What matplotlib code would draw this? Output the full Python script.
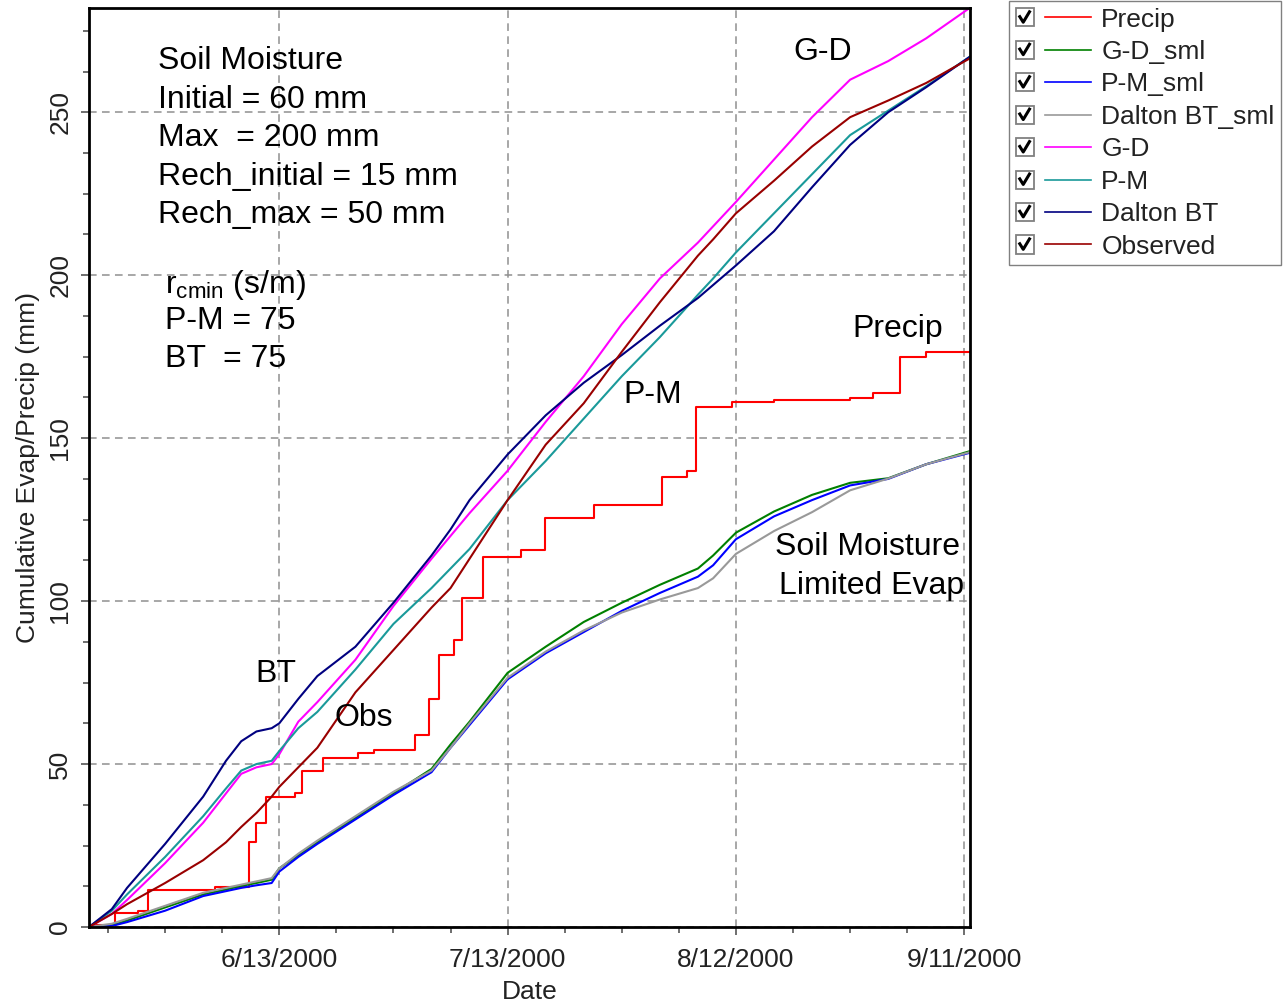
import matplotlib
matplotlib.use('Agg')
import matplotlib.pyplot as plt
import matplotlib.dates as mdates
import numpy as np
import pandas as pd
from matplotlib.lines import Line2D
from matplotlib.patches import Rectangle
from matplotlib.legend_handler import HandlerBase
from matplotlib.ticker import FixedLocator, FuncFormatter, MultipleLocator

plt.rcParams['font.family'] = ['Liberation Sans', 'DejaVu Sans']
plt.rcParams['mathtext.fontset'] = 'custom'
plt.rcParams['mathtext.rm'] = 'Liberation Sans'
plt.rcParams['mathtext.it'] = 'Liberation Sans:italic'

start = pd.Timestamp('2000-05-19')

# days since 5/19/2000
day = [0, 3, 5, 10, 15, 18, 20, 22, 24, 25, 27.5, 30, 35, 40, 45, 47.5, 50, 55,
       60, 65, 70, 75, 80, 82, 85, 90, 95, 100, 105, 110, 115.7]

gd = [0, 4, 8.3, 19.6, 32, 41, 47, 49, 50, 53, 63, 69, 82, 98.5, 113, 120, 127, 140,
      155, 169, 185, 199, 210, 215, 222.5, 235.5, 248.5, 260, 265.7, 272.7, 282]
pm = [0, 5, 10, 21.5, 34, 42.5, 48, 50, 51, 54, 61, 66, 79, 93, 104, 110, 116, 131,
      143, 156, 169, 181, 194, 199, 207, 219, 231, 243, 250.5, 258, 267]
bt = [0, 5.5, 12, 25.5, 40, 51, 57, 60, 61, 62.5, 70, 77, 86, 99.5, 114, 122, 131, 145,
      157, 167, 175.5, 184.5, 193, 197, 203, 213.5, 227, 240, 250, 257.7, 267]
obs = [0, 4, 7, 13.5, 20.5, 26, 30.7, 35, 40, 43, 49, 55, 72, 85, 98, 104, 113, 131,
       148, 160.7, 176.5, 191.7, 206, 211, 219, 229, 239.5, 248.5, 253.6, 259, 266.5]

gd_sml = [0, 0.5, 2, 6, 10, 11.5, 12.6, 13.5, 14.5, 18, 22, 26, 33.5, 41, 48.5, 56, 63, 78,
          86, 93.6, 99.5, 105, 110, 114, 121, 127.5, 132.6, 136.3, 137.7, 142, 146]
pm_sml = [0, 0.3, 1.5, 5, 9.5, 11, 12, 12.8, 13.5, 17, 21.5, 25.5, 33, 40.5, 47.5, 55, 62, 76,
          84, 90.5, 97, 102.5, 107.5, 111, 119, 126, 131, 135.5, 137.5, 142, 145.5]
bt_sml = [0, 1, 2.5, 6.5, 10.5, 12, 13, 14, 15, 18, 22.5, 26.5, 34, 41.5, 48, 55, 62.5, 76.5,
          84.5, 91, 96.5, 100.5, 104, 107, 114.5, 121.5, 127.3, 134, 137.6, 142, 145.7]

precip_day = [0, 0.5, 3.4, 6.5, 7.8, 16.5, 21, 22, 23.3, 27, 28, 30.7, 35.3, 37.5, 42.8,
              44.7, 46, 48, 49, 51.7, 56.8, 59.9, 66.4, 75.3, 78.6, 79.8, 84.5, 90, 100,
              103, 106.5, 110, 115.7]
precip = [0, 0.6, 4.3, 5, 11.5, 12.3, 26, 32, 40, 41, 48, 52, 53.4, 54.3, 59,
          70, 83.4, 88, 101, 113.5, 115.6, 125.5, 129.4, 138, 140, 159.5, 161, 161.6, 162.3,
          164, 175, 176.5, 176.5]

major_dates = ['2000-06-13', '2000-07-13', '2000-08-12', '2000-09-11']


def to_dates(days):
    return start + pd.to_timedelta(np.asarray(days, dtype=float), unit='D')


class CheckedLine(HandlerBase):
    def create_artists(self, legend, orig_handle, xdescent, ydescent, width, height, fontsize, trans):
        x0 = -xdescent
        yc = -ydescent + height / 2
        s = 13
        box = Rectangle((x0, yc - s / 2), s, s, facecolor='white', edgecolor='#808080',
                        lw=1.3, transform=trans)
        check = Line2D([x0 + 3, x0 + 5.5, x0 + 10], [yc + 0.5, yc - 3.5, yc + 4],
                       color='black', lw=2.2, transform=trans)
        line = Line2D([x0 + 21, x0 + width], [yc, yc], color=orig_handle.get_color(),
                      lw=1.2, transform=trans)
        return [box, check, line]


fig = plt.figure(figsize=(12.83, 10.02), dpi=100)
ax = fig.add_axes([89 / 1283, 75 / 1002, 881 / 1283, 919 / 1002])

series = [
    ('Precip', precip_day, precip, '#ff0000'),
    ('G-D_sml', day, gd_sml, '#008000'),
    ('P-M_sml', day, pm_sml, '#0000ff'),
    ('Dalton BT_sml', day, bt_sml, '#999999'),
    ('G-D', day, gd, '#ff00ff'),
    ('P-M', day, pm, '#1a9a9a'),
    ('Dalton BT', day, bt, '#000080'),
    ('Observed', day, obs, '#990000'),
]

handles = []
for name, d, v, c in series:
    ds = 'steps-post' if name == 'Precip' else 'default'
    h, = ax.plot(to_dates(d), v, color=c, lw=1.5, drawstyle=ds, label=name)
    handles.append(h)

ax.set_xlim(start, start + pd.Timedelta(days=115.75))
ax.set_ylim(0, 282)

major = mdates.date2num(pd.to_datetime(major_dates))
minor = mdates.date2num(start) + 2.5 + 7.5 * np.arange(16)
ax.xaxis.set_major_locator(FixedLocator(major))
ax.xaxis.set_minor_locator(FixedLocator(minor))
ax.xaxis.set_major_formatter(FuncFormatter(
    lambda x, p: '{d.month}/{d.day}/{d.year}'.format(d=mdates.num2date(x))))
ax.yaxis.set_major_locator(MultipleLocator(50))
ax.yaxis.set_minor_locator(MultipleLocator(12.5))

ax.grid(True, which='major', color='#909090', lw=1.1, linestyle=(0, (5, 3.5)))
ax.set_axisbelow(True)
for sp in ax.spines.values():
    sp.set_linewidth(2.0)
ax.tick_params(which='major', length=6, width=1.2, color='#555555', labelsize=19,
               labelcolor='#222222', pad=6)
ax.tick_params(axis='x', which='major', pad=9)
ax.tick_params(which='minor', length=4, width=1.2, color='#555555')
plt.setp(ax.get_yticklabels(), rotation=90, va='center')

ax.set_xlabel('Date', fontsize=19, color='#222222', labelpad=6)
ax.set_ylabel('Cumulative Evap/Precip (mm)', fontsize=19, color='#222222', labelpad=6)


def px(x, y):
    return ((x - 89) / 881, (927 - y) / 919)


fs = 23
dy = 3
info = ['Soil Moisture', 'Initial = 60 mm', 'Max  = 200 mm', 'Rech_initial = 15 mm',
        'Rech_max = 50 mm']
for i, t in enumerate(info):
    ax.text(*px(158, 58 + dy + 38.6 * i), t, transform=ax.transAxes, fontsize=fs, va='center')
ax.text(*px(165, 282 + dy), r'r$_{\rm cmin}$ (s/m)', transform=ax.transAxes, fontsize=fs,
        va='center')
ax.text(*px(165, 318 + dy), 'P-M = 75', transform=ax.transAxes, fontsize=fs, va='center')
ax.text(*px(165, 356 + dy), 'BT  = 75', transform=ax.transAxes, fontsize=fs, va='center')

ax.text(*px(793, 49 + dy), 'G-D', transform=ax.transAxes, fontsize=fs, va='center')
ax.text(*px(852, 326 + dy), 'Precip', transform=ax.transAxes, fontsize=fs, va='center')
ax.text(*px(623, 392 + dy), 'P-M', transform=ax.transAxes, fontsize=fs, va='center')
ax.text(*px(960, 544 + dy), 'Soil Moisture', transform=ax.transAxes, fontsize=fs,
        va='center', ha='right')
ax.text(*px(964, 583 + dy), 'Limited Evap', transform=ax.transAxes, fontsize=fs,
        va='center', ha='right')
ax.text(*px(255, 671 + dy), 'BT', transform=ax.transAxes, fontsize=fs, va='center')
ax.text(*px(334, 715 + dy), 'Obs', transform=ax.transAxes, fontsize=fs, va='center')

leg = fig.legend(handles, [h.get_label() for h in handles], loc='upper left',
                 bbox_to_anchor=(1009 / 1283, 1 - 1 / 1002), fontsize=19,
                 handler_map={Line2D: CheckedLine()}, handlelength=2.85, handletextpad=0.4,
                 labelspacing=0.32, borderpad=0.25, borderaxespad=0, fancybox=False,
                 framealpha=1, edgecolor='#808080')
leg.get_frame().set_linewidth(1.0)
for t in leg.get_texts():
    t.set_color('#222222')

fig.savefig('out.png', dpi=100)
